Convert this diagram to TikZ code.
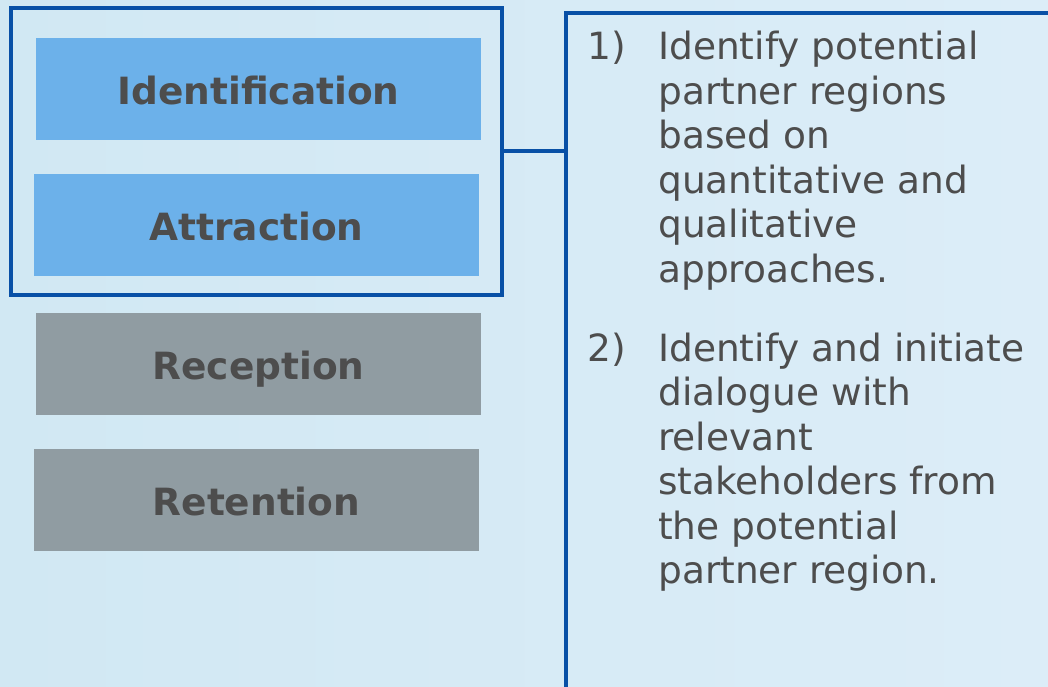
\documentclass[tikz,border=0pt]{standalone}
\usepackage{fontspec}
\setmainfont{DejaVu Sans}
\usetikzlibrary{positioning}
\definecolor{frameBlue}{RGB}{8,80,166}
\definecolor{activeBlue}{RGB}{108,177,234}
\definecolor{idleGray}{RGB}{144,156,162}
\definecolor{textGray}{RGB}{77,77,77}
\definecolor{bgLeft}{RGB}{209,232,243}
\definecolor{bgRight}{RGB}{220,237,248}

\begin{document}
\begin{tikzpicture}[x=1pt,y=-1pt,
  phase/.style={minimum width=445pt,minimum height=102pt,inner sep=0pt,
    text height=31pt,text depth=0pt,text=textGray,
    font=\fontsize{37.5}{45}\selectfont\bfseries},
  active/.style={phase,fill=activeBlue},
  idle/.style={phase,fill=idleGray},
  frame/.style={draw=frameBlue,line width=4pt,outer sep=0pt,inner sep=0pt},
  link/.style={draw=frameBlue,line width=4pt},
  stepText/.style={font=\fontsize{37.5}{44.5}\selectfont,text=textGray,
    align=left,inner sep=0pt,anchor=north west}]
%% page and background
\useasboundingbox (0,0) rectangle (1048,687);
\clip (0,0) rectangle (1048,687);
\shade[left color=bgLeft,right color=bgRight] (0,0) rectangle (1048,687);
%the phases
\node [active] (phaseIdent) at (258.5,89) {Identification};
\node [active,below=34pt of phaseIdent,xshift=-2pt] (phaseAttract) {Attraction};
\node [idle,below=36pt of phaseAttract,xshift=2pt] (phaseRecept) {Reception};
\node [idle,below=34pt of phaseRecept,xshift=-2pt] (phaseRetain) {Retention};
%the frames
\node [frame,minimum width=491pt,minimum height=286pt] (phaseFrame) at (256,151.5) {};
\node [frame,anchor=north west,minimum width=520pt,minimum height=700pt] (stepBox) at (566.3,13.5) {};
%the steps
\node [stepText] (numOne) at (587,31) {1)};
\node [stepText] (stepOne) at (658,31) {Identify potential\\partner regions\\based on\\quantitative and\\qualitative\\approaches.};
\node [stepText] (numTwo) at (587,332.5) {2)};
\node [stepText] (stepTwo) at (658,332.5) {Identify and initiate\\dialogue with\\relevant\\stakeholders from\\the potential\\partner region.};
%drawings of lines
\draw[link] (phaseFrame.east) -- (phaseFrame.east -| stepBox.west);
\end{tikzpicture}
\end{document}
